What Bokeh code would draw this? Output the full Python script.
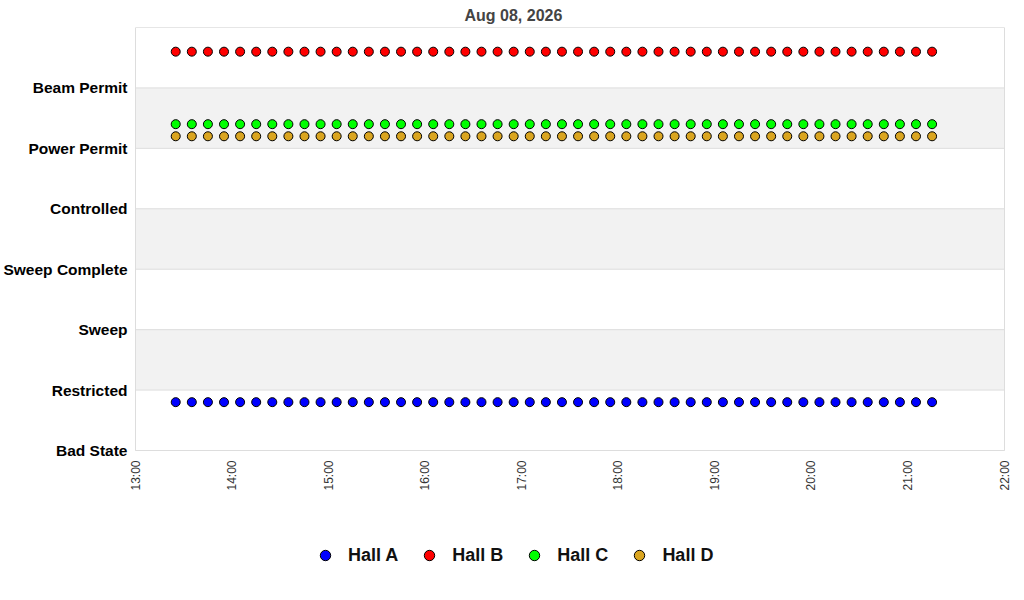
from datetime import datetime, timedelta
from math import pi
from bokeh.plotting import figure
from bokeh.models import (ColumnDataSource, FixedTicker, DatetimeTickFormatter,
                          Range1d, Legend, LegendItem)
from bokeh.embed import file_html
from bokeh.resources import INLINE

title_text = "Aug 08, 2026"
state_labels = ["Bad State", "Restricted", "Sweep", "Sweep Complete",
                "Controlled", "Power Permit", "Beam Permit", ""]
series_names = ["Hall A", "Hall B", "Hall C", "Hall D"]
series_colors = ["#0000ff", "#ff0000", "#00ff00", "#daa520"]

start_time = datetime(2026, 8, 8, 13, 25)
n_points = 48
step_minutes = 10
times = [start_time + timedelta(minutes=step_minutes * i) for i in range(n_points)]

hall_a = [0.8] * n_points
hall_b = [6.6] * n_points
hall_c = [5.4] * n_points
hall_d = [5.2] * n_points
series_values = [hall_a, hall_b, hall_c, hall_d]

x_start = datetime(2026, 8, 8, 13, 0)
x_end = datetime(2026, 8, 8, 22, 0)

# layout (pixels)
FIG_H = 600
TOP = 27
PLOT_LEFT = 135
PLOT_W = 869
PLOT_BOTTOM = 450
PAD = 8  # extra frame room so the end tick labels are not clipped
y_top = len(state_labels) - 1
px_per_unit = (PLOT_BOTTOM - TOP) / y_top
y_low = -(FIG_H - PLOT_BOTTOM) / px_per_unit
x_pad = (x_end - x_start) * PAD / PLOT_W

p = figure(width=1024, height=FIG_H, x_axis_type="datetime",
           output_backend="svg", toolbar_location=None,
           x_range=Range1d(x_start - x_pad, x_end + x_pad),
           y_range=Range1d(y_low, y_top),
           min_border_left=PLOT_LEFT - PAD, min_border_right=1024 - PLOT_LEFT - PLOT_W - PAD,
           min_border_top=TOP, min_border_bottom=0)
p.frame_height = FIG_H - TOP
p.frame_width = PLOT_W + 2 * PAD
p.outline_line_color = None
p.background_fill_color = "white"
p.border_fill_color = "white"

# title
p.title.text = title_text
p.title.align = "left"
p.title.offset = 464 - (PLOT_LEFT - PAD)
p.title.standoff = 8
p.title.text_font = "Liberation Sans"
p.title.text_font_size = "16px"
p.title.text_font_style = "bold"
p.title.text_color = "#444444"

# alternating bands, grid lines and plot box
p.xgrid.visible = False
p.ygrid.visible = False
levels = list(range(len(state_labels)))
band_bottoms = levels[1:-1:2]
band_tops = [b + 1 for b in band_bottoms]
p.quad(left=[x_start] * len(band_bottoms), right=[x_end] * len(band_bottoms),
       bottom=band_bottoms, top=band_tops,
       fill_color="#f2f2f2", line_color=None)
p.segment(x0=[x_start] * len(levels), x1=[x_end] * len(levels),
          y0=levels, y1=levels, line_color="#dddddd", line_width=1)
p.quad(left=[x_start], right=[x_end], bottom=[0], top=[y_top],
       fill_color=None, line_color="#dddddd", line_width=1)

# y axis
p.yaxis.ticker = FixedTicker(ticks=levels)
p.yaxis.major_label_overrides = {i: s for i, s in enumerate(state_labels)}
p.yaxis.major_label_text_font = "Liberation Sans"
p.yaxis.major_label_text_font_style = "bold"
p.yaxis.major_label_text_font_size = "15.5px"
p.yaxis.major_label_text_color = "#000000"
p.yaxis.major_tick_line_color = None
p.yaxis.minor_tick_line_color = None
p.yaxis.major_tick_out = 0
p.yaxis.major_tick_in = 0
p.yaxis.minor_tick_out = 0
p.yaxis.axis_line_color = None
p.yaxis.major_label_standoff = 8 - PAD

# x axis (pinned at the bottom of the state scale)
hour_ticks = [(x_start + timedelta(hours=h)).timestamp() * 1000 for h in range(10)]
p.xaxis.fixed_location = 0
p.xaxis.ticker = FixedTicker(ticks=hour_ticks)
p.xaxis.formatter = DatetimeTickFormatter(hours="%H:%M", minutes="%H:%M", days="%H:%M")
p.xaxis.major_label_orientation = pi / 2
p.xaxis.major_label_text_font = "Liberation Sans"
p.xaxis.major_label_text_font_size = "12px"
p.xaxis.major_label_text_color = "#333333"
p.xaxis.major_tick_line_color = None
p.xaxis.minor_tick_line_color = None
p.xaxis.major_tick_out = 0
p.xaxis.major_tick_in = 0
p.xaxis.minor_tick_out = 0
p.xaxis.axis_line_color = None
p.xaxis.major_label_standoff = 10

items = []
for name, color, vals in zip(series_names, series_colors, series_values):
    src = ColumnDataSource(dict(x=times, y=vals))
    r = p.scatter("x", "y", source=src, size=9, marker="circle",
                  fill_color=color, line_color="black", line_width=1)
    items.append(LegendItem(label=name, renderers=[r]))

legend = Legend(items=items, orientation="horizontal", location=(177 + PAD, 32),
                label_text_font="Liberation Sans", label_text_font_style="bold",
                label_text_font_size="18px", label_text_color="#111111",
                border_line_color=None, background_fill_alpha=0,
                spacing=18, glyph_width=26, glyph_height=26, label_standoff=10,
                margin=0, padding=0)
p.add_layout(legend, "center")

open("out.html", "w").write(file_html(p, INLINE))
